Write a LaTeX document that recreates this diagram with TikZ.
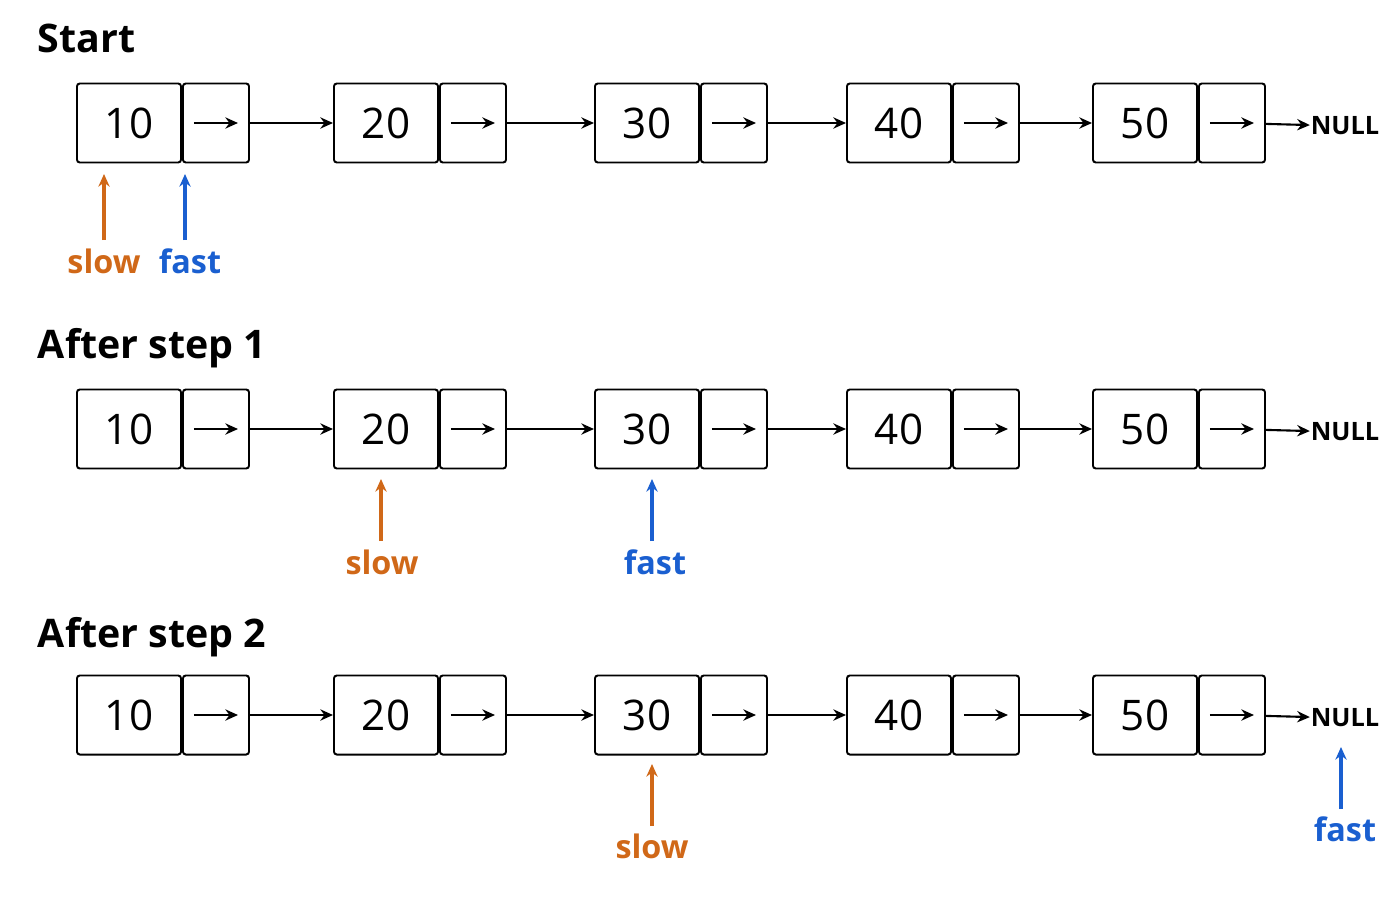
\documentclass[tikz,border=0pt]{standalone}
\usepackage{fontspec}
\setmainfont{Open Sans}
\usetikzlibrary{arrows.meta,positioning}
\definecolor{slowc}{HTML}{D06818}
\definecolor{fastc}{HTML}{1A5FD0}

\begin{document}
\begin{tikzpicture}[x=0.025cm,y=-0.025cm,>={Stealth[length=9pt,width=8pt]},
                    line width=1.4pt]
  \tikzstyle{data}=[draw,rounded corners=2pt,minimum width=2.6cm,minimum height=1.975cm,
                    inner sep=0pt,font=\fontsize{30}{34}\selectfont]
  \tikzstyle{ptr}=[draw,rounded corners=2pt,minimum width=1.65cm,minimum height=1.975cm,inner sep=0pt]
  \tikzstyle{null}=[font=\fontsize{18}{20}\selectfont\bfseries,inner sep=0pt]
  \tikzstyle{title}=[anchor=west,font=\fontsize{28}{32}\selectfont\bfseries,inner sep=0pt]
  \tikzstyle{lbl}=[font=\fontsize{23}{26}\selectfont\bfseries,inner sep=1pt]
  \tikzstyle{link}=[->,line width=1.5pt]
  \tikzstyle{up}=[->,line width=2.2pt]

  \useasboundingbox (0,0) rectangle (1400,900);

  \node[title] (t1) at (37,38)  {Start};
  \node[title] (t2) at (37,348) {After step 1};
  \node[title] (t3) at (37,637) {After step 2};

  \foreach \row/\yy in {a/123,b/429,c/715}{
    \foreach \v/\xx [count=\i] in {10/76,20/333,30/594,40/846,50/1092}{
      \node[data,anchor=west] (\row d\i) at (\xx,\yy) {\v};
      \node[ptr,anchor=west]  (\row p\i) at (\row d\i.east) {};
      \draw[link] ([xshift=-0.55cm]\row p\i.center) -- ([xshift=0.55cm]\row p\i.center);
    }
    \node[null] (\row n) at (1345,\yy+3) {NULL};
    \foreach \i [evaluate=\i as \j using int(\i+1)] in {1,...,4}
      \draw[link] (\row p\i) -- (\row d\j);
    \draw[link] (\row p5) -- (\row n);
  }

  % pointers
  \node[lbl,text=slowc] (s1) at (104,261) {slow};
  \node[lbl,text=fastc] (f1) at (190,261) {fast};
  \node[lbl,text=slowc] (s2) at (382,562) {slow};
  \node[lbl,text=fastc] (f2) at (655,562) {fast};
  \node[lbl,text=slowc] (s3) at (652,846) {slow};
  \node[lbl,text=fastc] (f3) at (1345,829) {fast};
  \coordinate (s1t) at (104,174);
  \coordinate (f1t) at (185,174);
  \coordinate (s2t) at (381,479);
  \coordinate (f2t) at (652,479);
  \coordinate (s3t) at (652,764);
  \coordinate (f3t) at (1341,747);
  \draw[up,slowc] (104,240) -- (s1t);
  \draw[up,fastc] (185,240) -- (f1t);
  \draw[up,slowc] (381,541) -- (s2t);
  \draw[up,fastc] (652,541) -- (f2t);
  \draw[up,slowc] (652,826) -- (s3t);
  \draw[up,fastc] (1341,809) -- (f3t);
\end{tikzpicture}
\end{document}
